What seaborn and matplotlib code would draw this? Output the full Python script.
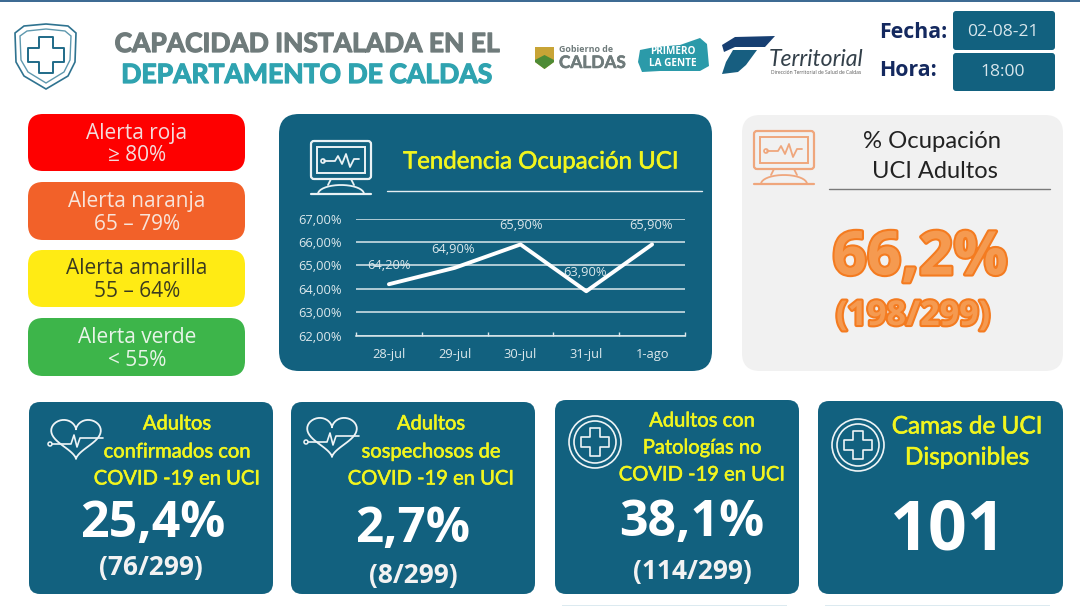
import numpy as np, pandas as pd
import matplotlib
matplotlib.use("Agg")
import matplotlib.pyplot as plt
import matplotlib.patheffects as pe
import seaborn as sns
from matplotlib.patches import FancyBboxPatch, Circle, Polygon, Rectangle
from matplotlib.ticker import FuncFormatter

sns.set_theme(style="white")
plt.rcParams['font.family'] = ['Open Sans', 'DejaVu Sans']

days = ["28-jul", "29-jul", "30-jul", "31-jul", "1-ago"]
occupancy = [64.2, 64.9, 65.9, 63.9, 65.9]
y_ticks = [62, 63, 64, 65, 66, 67]
alerts = [("Alerta roja", "≥ 80%"), ("Alerta naranja", "65 – 79%"),
          ("Alerta amarilla", "55 – 64%"), ("Alerta verde", "< 55%")]
alert_colors = ["#FE0000", "#F26129", "#FFEB14", "#3DB54A"]
alert_text = ["#F4DCDC", "#F8E4DA", "#3B3B20", "#E8F4E8"]
card_titles = ["Adultos\nconfirmados con\nCOVID -19 en UCI", "Adultos\nsospechosos de\nCOVID -19 en UCI",
               "Adultos con\nPatologías no\nCOVID -19 en UCI", "Camas de UCI\nDisponibles"]
card_values = ["25,4%", "2,7%", "38,1%", "101"]
card_sub = ["(76/299)", "(8/299)", "(114/299)", ""]

TEAL = "#12617F"
YEL = "#F2F51E"
fig = plt.figure(figsize=(10.8, 6.06), dpi=100, facecolor="white")
bg = fig.add_axes([0, 0, 1, 1])
bg.set_xlim(0, 1080); bg.set_ylim(606, 0); bg.axis("off")

def box(x0, y0, x1, y1, color, r=14, ec="none", lw=0, z=1):
    bg.add_patch(FancyBboxPatch((x0 + r, y0 + r), x1 - x0 - 2 * r, y1 - y0 - 2 * r,
                                boxstyle=f"round,pad={r},rounding_size={r}", fc=color, ec=ec, lw=lw, zorder=z))

def txt(x, y, s, size, color, weight="normal", ha="center", family=None, fat=0, **kw):
    if family: kw["family"] = family
    t = bg.text(x, y, s, fontsize=size, color=color, fontweight=weight, ha=ha, va="center", zorder=5, **kw)
    if fat:
        t.set_path_effects([pe.withStroke(linewidth=fat, foreground=color)])
    return t

def cross(cx, cy, a, b, color, lw=1.5, z=4):
    p = [(-b,-a),(b,-a),(b,-b),(a,-b),(a,b),(b,b),(b,a),(-b,a),(-b,b),(-a,b),(-a,-b),(-b,-b)]
    bg.add_patch(Polygon([(cx+u, cy+v) for u, v in p], closed=True, fc="none", ec=color, lw=lw, zorder=z, joinstyle="round"))

def monitor(x, y, color, s=1.0):
    box(x, y, x+60*s, y+38*s, "none", r=3, ec=color, lw=1.6, z=4)
    bg.add_patch(Rectangle((x+6*s, y+6*s), 48*s, 26*s, fc="none", ec=color, lw=1.4, zorder=4))
    px = np.array([13, 24, 27, 31, 35, 39, 43, 48]) * s + x
    py = np.array([20, 20, 15, 23, 13, 26, 18, 18]) * s + y
    bg.plot(px, py, color=color, lw=1.3, zorder=4)
    bg.add_patch(Circle((x+12*s, y+20*s), 2*s, fc="none", ec=color, lw=1.2, zorder=4))
    bg.plot([x+20*s, x+17*s], [y+38*s, y+44*s], color=color, lw=1.3, zorder=4)
    bg.plot([x+40*s, x+43*s], [y+38*s, y+44*s], color=color, lw=1.3, zorder=4)
    t = np.linspace(np.pi, 2*np.pi, 20)
    bg.plot(x+30*s+23*s*np.cos(t), y+53*s+9*s*np.sin(t), color=color, lw=1.3, zorder=4)
    bg.plot([x, x+60*s], [y+53*s, y+53*s], color=color, lw=1.6, zorder=4)

def heart(x, y, color):
    t = np.linspace(0, 2*np.pi, 80)
    hx = 16*np.sin(t)**3; hy = -(13*np.cos(t)-5*np.cos(2*t)-2*np.cos(3*t)-np.cos(4*t))
    bg.plot(x+29+hx*1.55, y+18+hy*1.35, color=color, lw=1.3, zorder=4)
    bg.plot(np.array([5, 24, 27, 30, 33, 36, 56])+x, np.array([26, 26, 17, 29, 20, 20, 20])+y, color=color, lw=1.2, zorder=4)
    bg.add_patch(Circle((x+3, y+26), 2, fc="none", ec=color, lw=1.1, zorder=4))

def badge(cx, cy, color):
    bg.add_patch(Circle((cx, cy), 26, fc="none", ec=color, lw=1.2, zorder=4))
    bg.add_patch(Circle((cx, cy), 21, fc="none", ec=color, lw=1.2, zorder=4))
    cross(cx, cy, 14, 5, color, 1.2)

# top rule
bg.add_patch(Rectangle((0, 0), 1080, 1.6, fc="#3E6B93", ec="none"))

# header shield
sh = [(15,33),(24,26),(46,24),(68,26),(76,33),(75,62),(68,76),(46,89),(24,76),(16,62)]
bg.add_patch(Polygon(sh, closed=True, fc="none", ec="#2F7390", lw=1.2, zorder=3))
sh2 = [(20,36),(27,31),(46,29),(65,31),(71,36),(70,60),(64,72),(46,83),(28,72),(21,60)]
bg.add_patch(Polygon(sh2, closed=True, fc="none", ec="#5E98AE", lw=1.0, zorder=3))
cross(45.5, 55, 18, 7, "#1F6A88", 1.4)

txt(307, 44, "CAPACIDAD INSTALADA EN EL", 19, "#6F7B7B", "bold", family="Lato", fat=0.9)
txt(306.5, 75, "DEPARTAMENTO DE CALDAS", 19.1, "#2FA3B0", "bold", family="Lato", fat=0.9)

# logos
bg.add_patch(Polygon([(535,47),(554,47),(554,62),(544.5,69),(535,62)], fc="#C8A436", ec="none", zorder=3))
bg.add_patch(Polygon([(535,60),(544.5,55),(554,60),(554,62),(544.5,69),(535,62)], fc="#4E8B35", ec="none", zorder=4))
txt(559, 49, "Gobierno de", 6.4, "#6F7B7B", "bold", ha="left")
txt(559, 63, "CALDAS", 12.4, "#6F7B7B", "bold", ha="left", family="Lato", fat=0.4)
bg.add_patch(Polygon([(640,50),(655,47),(680,45),(700,38),(707,44),(709,66),(700,71),(660,71),(642,72),(638,62)],
                     fc="#2B9AA9", ec="none", zorder=3))
txt(673, 52, "PRIMERO", 7.2, "white", "bold")
txt(673, 64, "LA GENTE", 7.2, "white", "bold")
bg.add_patch(Polygon([(722,45),(735,37),(775,36),(765,47),(735,47),(724,52)], fc="#173F72", ec="none", zorder=3))
bg.add_patch(Polygon([(733,50),(757,50),(746,65),(738,72),(722,74),(726,62)], fc="#175E80", ec="none", zorder=3))
txt(816, 59, "Territorial", 16.6, "#33404A", style="italic", family="Lato")
txt(816, 73, "Dirección Territorial de Salud de Caldas", 3.6, "#555555")

txt(879, 32, "Fecha:", 15.3, "#14295F", "bold", ha="left")
txt(879, 70, "Hora:", 15.3, "#14295F", "bold", ha="left")
box(953, 11, 1055, 50, TEAL, r=3)
box(953, 53, 1055, 91, TEAL, r=3)
txt(1003, 31.5, "02-08-21", 12.6, "#D8E6EC")
txt(1003, 72.5, "18:00", 12.6, "#D8E6EC")

# alert pills
for (a, b), c, t, (y0, y1) in zip(alerts, alert_colors, alert_text, [(114,171),(182,240),(250,307),(318,376)]):
    box(28, y0, 245, y1, c, r=15)
    m = (y0 + y1) / 2
    txt(137, m - 9.5, a, 15, t)
    txt(137, m + 13, b, 15, t)

# trend panel
box(279, 114, 712, 371, TEAL, r=20)
monitor(311, 141, "#EAF2F5")
txt(541, 162, "Tendencia Ocupación UCI", 17.3, YEL, family="Lato", fat=0.4)
bg.plot([387, 702], [191, 191], color="#E4EEF2", lw=1, zorder=4)

ax = fig.add_axes([356/1080, 1-335.7/606, (685-356)/1080, (335.7-218.7)/606], facecolor="none", zorder=6)
df = pd.DataFrame({"dia": days, "ocupacion": occupancy})
sns.lineplot(data=df, x="dia", y="ocupacion", ax=ax, color="white", lw=2.8, sort=False, zorder=3)
ax.set_xlim(-0.5, 4.5); ax.set_ylim(62, 67)
ax.set_xlabel(""); ax.set_ylabel("")
ax.set_yticks(y_ticks)
ax.yaxis.set_major_formatter(FuncFormatter(lambda v, _: f"{v:.2f}%".replace(".", ",")))
ax.grid(axis="y", color="#DCE8EC", lw=1.1)
ax.grid(axis="x", visible=False)
for s in ["top", "right", "left"]:
    ax.spines[s].set_visible(False)
ax.spines["bottom"].set_color("#DCE8EC"); ax.spines["bottom"].set_linewidth(1.1)
ax.set_xticks(np.arange(-0.5, 5, 1), minor=True)
ax.tick_params(axis="x", which="minor", length=3, color="#DCE8EC", width=1, direction="in", bottom=True)
ax.tick_params(axis="x", which="major", length=0, labelsize=9.3, labelcolor="#DCE8EC", pad=9)
ax.tick_params(axis="y", length=0, labelsize=9.3, labelcolor="#DCE8EC", pad=10)
offs = [(0, 13.5), (-1, 13.5), (0.5, 13.5), (-1, 13.5), (-1, 13.5)]
for i, v in enumerate(occupancy):
    ax.annotate(f"{v:.2f}%".replace(".", ","), (i, v), xytext=offs[i], textcoords="offset points",
                ha="center", va="center", fontsize=9.3, color="#DCE8EC", zorder=5)

# occupancy panel
box(742, 115, 1063, 371, "#F1F1F1", r=18)
monitor(754, 131, "#EFA67C")
txt(932, 141, "% Ocupación", 17.2, "#222222", family="Lato")
txt(935, 171, "UCI Adultos", 17.0, "#222222", family="Lato")
bg.plot([829, 1050], [188.5, 188.5], color="#7A7A7A", lw=1, zorder=4)
for s_, x_, y_, fs in [("66,2%", 920, 259, 43.5), ("(198/299)", 913, 316, 24.6)]:
    t_ = bg.text(x_, y_, s_, fontsize=fs, fontweight="bold", ha="center", va="center",
                 color="#F59A50", zorder=5, family="Open Sans")
    t_.set_path_effects([pe.withStroke(linewidth=3.0, foreground="#F47B20")])

# bottom cards
cards = [(29,402,273,594),(291,402,535,594),(555,400,799,594),(818,401,1063,594)]
title_y = [[424,452,479],[424,452,479],[421,448,475],[427,458]]
title_x = [177, 431, 702, 967]
title_size = [14.5, 14.5, 14.5, 17.5]
val_xy = [(153,524),(413,529),(692,523),(948,532)]
val_size = [36, 35.5, 36, 49]
sub_xy = [(151,568),(413,575),(692,572),(0,0)]
for i, c in enumerate(cards):
    box(*c, TEAL, r=11)
    for line, y in zip(card_titles[i].split("\n"), title_y[i]):
        txt(title_x[i], y, line, title_size[i], YEL, family="Lato", fat=0.4)
    txt(*val_xy[i], card_values[i], val_size[i], "white", "bold", family="Open Sans")
    if card_sub[i]:
        txt(*sub_xy[i], card_sub[i], 19, "#F2F2F2", "bold")
heart(47, 418, "#EEF4F6")
heart(303, 416, "#EEF4F6")
badge(595, 442, "#EEF4F6")
badge(858, 445, "#EEF4F6")

# sliver of next row of cards at bottom edge
bg.add_patch(Rectangle((562, 604.5), 225, 1.5, fc="#DCEAF0", ec="none"))
bg.add_patch(Rectangle((825, 604.5), 225, 1.5, fc="#DCEAF0", ec="none"))
fig.savefig("out.png", dpi=100, facecolor="white")
